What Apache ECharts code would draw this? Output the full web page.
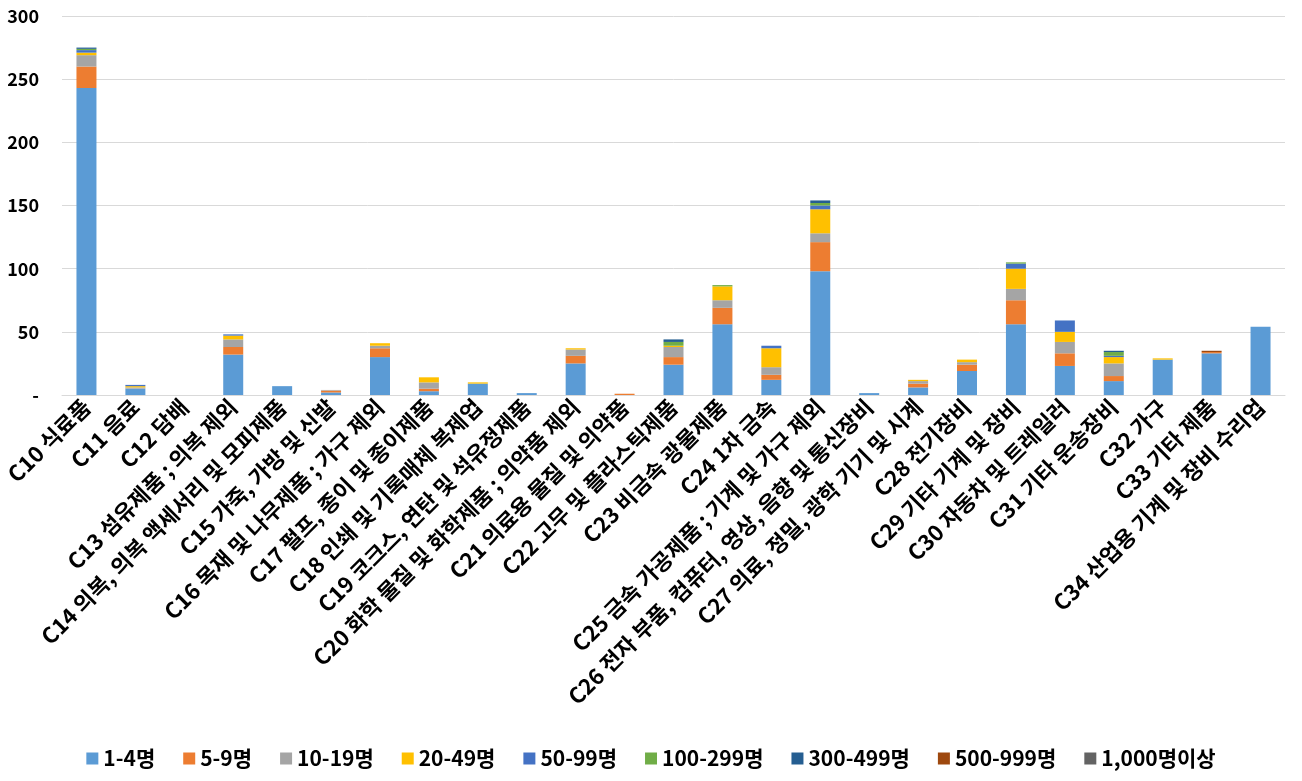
<!DOCTYPE html>
<html><head><meta charset="utf-8">
<script src="https://cdn.jsdelivr.net/npm/echarts@6/dist/echarts.min.js"></script>
<style>html,body{margin:0;padding:0;background:#fff}#c{width:1302px;height:781px}</style>
</head><body><div id="c"></div>
<script>
const categories = ["C10 식료품","C11 음료","C12 담배","C13 섬유제품 ; 의복 제외","C14 의복, 의복 액세서리 및 모피제품","C15 가죽, 가방 및 신발","C16 목재 및 나무제품 ; 가구 제외","C17 펄프, 종이 및 종이제품","C18 인쇄 및 기록매체 복제업","C19 코크스, 연탄 및 석유정제품","C20 화학 물질 및 화학제품 ; 의약품 제외","C21 의료용 물질 및 의약품","C22 고무 및 플라스틱제품","C23 비금속 광물제품","C24 1차 금속","C25 금속 가공제품 ; 기계 및 가구 제외","C26 전자 부품, 컴퓨터, 영상, 음향 및 통신장비","C27 의료, 정밀, 광학 기기 및 시계","C28 전기장비","C29 기타 기계 및 장비","C30 자동차 및 트레일러","C31 기타 운송장비","C32 가구","C33 기타 제품","C34 산업용 기계 및 장비 수리업"];
const seriesNames = ["1-4명","5-9명","10-19명","20-49명","50-99명","100-299명","300-499명","500-999명","1,000명이상"];
const s1_4     = [243,5,0,32,7,2,30,3,9,1.5,25,0,24,56,12,98,1.5,6,19,56,23,11,28,33,54];
const s5_9     = [17,0,0,6,0,1.5,7,2,0,0,6,1,6,13,4,23,0,3,5,19,10,4,0,1,0];
const s10_19   = [9,1,0,6,0,0.5,2,5,0,0,5,0,8,6,6,7,0,2,2,9,9,10,0,0,0];
const s20_49   = [2,1,0,3,0,0,2,4,1,0,1,0,1,11,15,19,0,1,2,16,8,5,1,0,0];
const s50_99   = [2,1,0,1,0,0,0,0,0,0,0,0,0,0,2,3,0,0,0,4,9,1,0,0,0];
const s100_299 = [1,0,0,0,0,0,0,0,0,0,0,0,3,1,0,2,0,0,0,1,0,3,0,0,0];
const s300_499 = [1,0,0,0,0,0,0,0,0,0,0,0,2,0,0,2,0,0,0,0,0,1,0,0,0];
const s500_999 = [0,0,0,0,0,0,0,0,0,0,0,0,0,0,0,0,0,0,0,0,0,0,0,1,0];
const s1000    = [0,0,0,0,0,0,0,0,0,0,0,0,0,0,0,0,0,0,0,0,0,0,0,0,0];
const yTicks = [0,50,100,150,200,250,300];

const allData = [s1_4,s5_9,s10_19,s20_49,s50_99,s100_299,s300_499,s500_999,s1000];
const colors = ["#5B9BD5","#ED7D31","#A5A5A5","#FFC000","#4472C4","#70AD47","#255E91","#9E480E","#636363"];
const FONT = "'Noto Sans CJK KR', 'Noto Sans', sans-serif";
const chart = echarts.init(document.getElementById('c'));
chart.setOption({
  animation: false,
  backgroundColor: '#fff',
  color: colors,
  textStyle: {fontFamily: FONT},
  grid: {left: 62, right: 17, top: 16, bottom: 386, containLabel: false},
  legend: {
    data: seriesNames, top: 743, left: 'center',
    itemWidth: 12, itemHeight: 12, itemGap: 28, icon: 'rect',
    textStyle: {fontSize: 21, fontWeight: 'bold', color: '#000', fontFamily: FONT}
  },
  xAxis: {
    type: 'category', data: categories,
    axisLine: {lineStyle: {color: '#D9D9D9', width: 1}},
    axisTick: {show: false},
    axisLabel: {rotate: 45, interval: 0, fontSize: 22, fontWeight: 'bold', color: '#000', fontFamily: FONT, margin: 8}
  },
  yAxis: {
    type: 'value', min: yTicks[0], max: yTicks[yTicks.length-1], interval: 50,
    axisLine: {show: false}, axisTick: {show: false},
    splitLine: {lineStyle: {color: '#D9D9D9', width: 1}},
    axisLabel: {fontSize: 18, fontWeight: 'bold', color: '#000', fontFamily: FONT, margin: 23,
      formatter: v => v === 0 ? '-' : String(v)}
  },
  series: seriesNames.map((n, i) => ({
    name: n, type: 'bar', stack: 'total', data: allData[i], barWidth: 20,
    itemStyle: {color: colors[i]}
  }))
});
</script></body></html>
